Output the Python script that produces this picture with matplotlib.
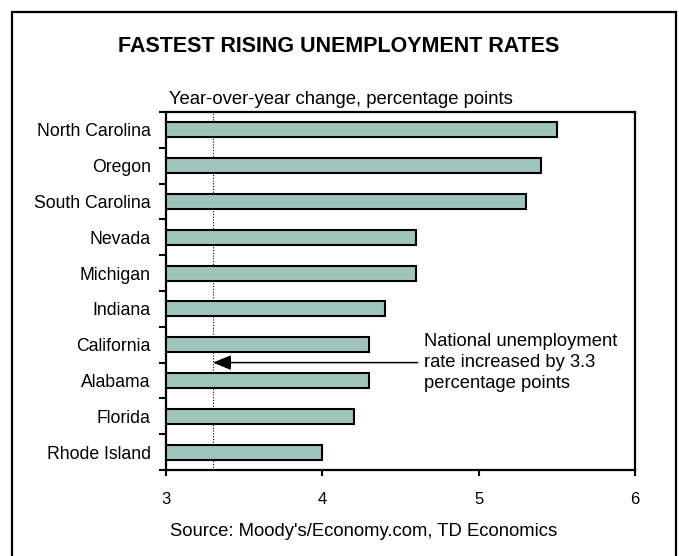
import matplotlib
matplotlib.use("Agg")
import matplotlib.pyplot as plt
from matplotlib.patches import Rectangle
from matplotlib.ticker import FixedLocator

plt.rcParams['font.family'] = ['Liberation Sans', 'DejaVu Sans']

states = ["North Carolina", "Oregon", "South Carolina", "Nevada", "Michigan",
          "Indiana", "California", "Alabama", "Florida", "Rhode Island"]
change = [5.5, 5.4, 5.3, 4.6, 4.6, 4.4, 4.3, 4.3, 4.2, 4.0]
national = 3.3
x_ticks = [3, 4, 5, 6]

fig = plt.figure(figsize=(6.79, 5.56), dpi=100)
W, H = 679, 556

# outer frame (open at the bottom edge)
fig.patches.append(Rectangle((12 / W, -0.05), (676 - 12) / W, 1.05 - 12 / H,
                             transform=fig.transFigure, fill=False,
                             edgecolor='black', linewidth=1.6))

ax = fig.add_axes([166 / W, 1 - 470 / H, (635 - 166) / W, (470 - 112) / H])

ypos = list(range(len(states)))
ax.barh(ypos, [v - x_ticks[0] for v in change], left=x_ticks[0], height=0.42,
        color='#9fc4bc', edgecolor='black', linewidth=1.5, zorder=3)

ax.axvline(national, color='black', linestyle=(0, (1, 1.5)), linewidth=0.8, zorder=2)

ax.set_xlim(x_ticks[0], x_ticks[-1])
ax.set_ylim(len(states) - 0.5, -0.5)
ax.set_xticks(x_ticks)
ax.set_xticklabels([str(t) for t in x_ticks])
ax.set_yticks(ypos)
ax.set_yticklabels(states)
ax.yaxis.set_minor_locator(FixedLocator([i - 0.5 for i in range(len(states) + 1)]))

ax.tick_params(axis='y', which='major', length=0, pad=11, labelsize=12.7)
ax.tick_params(axis='y', which='minor', length=5, width=1.5, direction='out')
ax.tick_params(axis='x', which='major', length=4, width=1.5, direction='out',
               pad=12, labelsize=12)
for s in ax.spines.values():
    s.set_linewidth(1.6)

# annotation pointing to the national line
ax.annotate("", xy=(national, 6.5), xytext=(4.61, 6.5),
            arrowprops=dict(arrowstyle='-|>,head_length=1.1,head_width=0.45',
                            color='black', lw=1.1, shrinkA=0, shrinkB=0),
            zorder=4)
ax.text(4.65, 6.5, "National unemployment\nrate increased by 3.3\npercentage points",
        ha='left', va='center', fontsize=13.25, linespacing=1.32, zorder=5)

fig.text(339 / W, 1 - 47 / H, "FASTEST RISING UNEMPLOYMENT RATES",
         ha='center', va='center', fontsize=15.5, fontweight='bold')
fig.text(169 / W, 1 - 100 / H, "Year-over-year change, percentage points",
         ha='left', va='center', fontsize=13.3)
fig.text(364 / W, 1 - 532 / H, "Source: Moody's/Economy.com, TD Economics",
         ha='center', va='center', fontsize=13.3)

fig.savefig("out.png", dpi=100)
